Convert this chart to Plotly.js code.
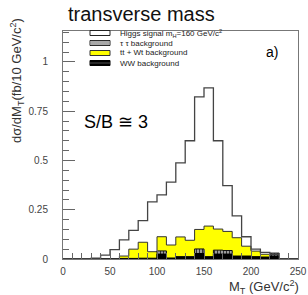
<!DOCTYPE html>
<html><head><meta charset="utf-8">
<script src="https://cdn.plot.ly/plotly-3.0.1.min.js"></script>
<style>html,body{margin:0;padding:0;background:#fff}#chart{width:308px;height:295px}</style>
</head><body><div id="chart"></div>
<script>
// bin lower edges (GeV/c^2), 10 GeV bins
const binLowEdges = [0,10,20,30,40,50,60,70,80,90,100,110,120,130,140,150,160,170,180,190,200,210,220,230,240];
const binWidth = 10;
const higgsSignal = [0,0,0,0.004,0.02,0.048,0.097,0.145,0.195,0.29,0.325,0.39,0.488,0.6,0.823,0.868,0.6,0.372,0.219,0.113,0.05,0.034,0.024,0,0];
const ttWtBackground = [0,0,0,0,0,0,0.015,0.05,0.085,0.037,0.113,0.071,0.112,0.095,0.15,0.167,0.152,0.14,0.108,0.065,0.04,0.024,0.012,0,0];
const tautauBackground = [0,0,0,0,0,0,0,0,0,0,0.041,0,0,0,0.051,0,0.045,0.043,0,0,0,0,0.03,0,0];
const wwBackground = [0,0,0,0,0,0,0.003,0.003,0.004,0.004,0.025,0.005,0.012,0.012,0.028,0.012,0.025,0.025,0.015,0.015,0.012,0.01,0.015,0,0];
const xTickVals = [0,50,100,150,200,250];
const yTickVals = [0,0.25,0.5,0.75,1];
const yTickText = ['0','0.25','0.5','0.75','1'];
const legendLabels = ['Higgs signal m<sub>H</sub>=160 GeV/c<sup>2</sup>','τ τ background','tt + Wt background','WW background'];

const edges = binLowEdges.concat([binLowEdges[binLowEdges.length-1] + binWidth]);
function stepY(v){ return v.concat([0]); }

const traces = [
  {x: edges, y: stepY(ttWtBackground), type:'scatter', mode:'lines', line:{shape:'hv', color:'#333', width:1},
   fill:'tozeroy', fillcolor:'#ffff00', hoverinfo:'skip'},
  {x: edges, y: stepY(tautauBackground), type:'scatter', mode:'lines', line:{shape:'hv', color:'#111', width:1},
   fill:'tozeroy', fillcolor:'#999999', fillpattern:{shape:'|', fgcolor:'#333', bgcolor:'#aaaaaa', size:3, solidity:0.4}, hoverinfo:'skip'},
  {x: edges, y: stepY(wwBackground), type:'scatter', mode:'lines', line:{shape:'hv', color:'#000', width:1},
   fill:'tozeroy', fillcolor:'#000000', hoverinfo:'skip'},
  {x: edges, y: stepY(higgsSignal), type:'scatter', mode:'lines', line:{shape:'hv', color:'#444', width:1.3}, hoverinfo:'skip'}
];

// pixel -> paper helpers for decorations
const L=63, R=298, T=31, B=259;
const px = p => (p-L)/(R-L);
const py = p => (B-p)/(B-T);

const rows = [33,43,53,63];
const shapes = [];
const annotations = [];
// legend swatches
shapes.push({type:'rect', xref:'paper', yref:'paper', x0:px(90), x1:px(110), y0:py(rows[0]+2.5), y1:py(rows[0]-2.5), line:{color:'#222', width:1}, fillcolor:'#fff'});
shapes.push({type:'rect', xref:'paper', yref:'paper', x0:px(90), x1:px(110), y0:py(rows[1]+2.5), y1:py(rows[1]-2.5), line:{color:'#222', width:1}, fillcolor:'#fff'});
for (let i=1;i<10;i++){
  shapes.push({type:'line', xref:'paper', yref:'paper', x0:px(90+2*i), x1:px(90+2*i), y0:py(rows[1]+2.5), y1:py(rows[1]-2.5), line:{color:'#555', width:1}});
}
shapes.push({type:'rect', xref:'paper', yref:'paper', x0:px(90), x1:px(110), y0:py(rows[2]+2.5), y1:py(rows[2]-2.5), line:{color:'#333', width:1}, fillcolor:'#ffff00'});
shapes.push({type:'rect', xref:'paper', yref:'paper', x0:px(90), x1:px(110), y0:py(rows[3]+2.5), y1:py(rows[3]-2.5), line:{color:'#000', width:1}, fillcolor:'#000'});
shapes.push({type:'line', xref:'paper', yref:'paper', x0:px(90), x1:px(110), y0:py(rows[3]), y1:py(rows[3]), line:{color:'#888', width:0.6}});

legendLabels.forEach((t,i)=>{
  annotations.push({xref:'paper', yref:'paper', x:px(118), y:py(rows[i]), xanchor:'left', yanchor:'middle', text:t, showarrow:false,
    font:{family:'Liberation Sans, Arial, sans-serif', size:8, color:'#222'}});
});
annotations.push({xref:'paper', yref:'paper', x:px(272), y:py(52), xanchor:'center', yanchor:'middle', text:'a)', showarrow:false,
  font:{family:'Liberation Sans, Arial, sans-serif', size:14, color:'#000'}});
annotations.push({xref:'paper', yref:'paper', x:px(82), y:py(122), xanchor:'left', yanchor:'middle', text:'S/B ≅ 3', showarrow:false,
  font:{family:'Liberation Sans, Arial, sans-serif', size:18, color:'#000'}});
annotations.push({xref:'paper', yref:'paper', x:px(17), y:py(81), xanchor:'center', yanchor:'middle', textangle:-90,
  text:'dσ/dM<sub>T</sub>(fb/10 GeV/c<sup>2</sup>)', showarrow:false,
  font:{family:'Liberation Sans, Arial, sans-serif', size:13, color:'#333'}});
annotations.push({xref:'paper', yref:'paper', x:px(301), y:py(287), xanchor:'right', yanchor:'middle',
  text:'M<sub>T</sub> (GeV/c<sup>2</sup>)', showarrow:false,
  font:{family:'Liberation Sans, Arial, sans-serif', size:13, color:'#333'}});

const layout = {
  width:308, height:295,
  margin:{l:L, r:308-R, t:T, b:295-B, pad:0},
  paper_bgcolor:'#fff', plot_bgcolor:'#fff',
  showlegend:false,
  font:{family:'Liberation Sans, Arial, sans-serif', size:10, color:'#444'},
  title:{text:'transverse mass', xref:'container', yref:'container', x:68/308, xanchor:'left', y:1-14/295, yanchor:'middle',
    font:{family:'Liberation Sans, Arial, sans-serif', size:20, color:'#111'}},
  xaxis:{range:[0,250], tickvals:xTickVals, ticktext:xTickVals.map(String), ticks:'inside', ticklen:9, tickcolor:'#666', tickwidth:1,
    minor:{dtick:10, ticks:'inside', ticklen:6, tickcolor:'#666', tickwidth:1, showgrid:false},
    showline:true, linecolor:'#777', linewidth:1, mirror:true, showgrid:false, zeroline:false, ticklabelstandoff:3,
    tickfont:{size:10, color:'#444'}, fixedrange:true},
  yaxis:{range:[0,1.157], tickvals:yTickVals, ticktext:yTickText, ticks:'inside', ticklen:12, tickcolor:'#666', tickwidth:1,
    minor:{dtick:0.05, ticks:'inside', ticklen:6, tickcolor:'#666', tickwidth:1, showgrid:false},
    showline:true, linecolor:'#777', linewidth:1, mirror:true, showgrid:false, zeroline:false, ticklabelstandoff:12,
    tickfont:{size:10, color:'#444'}, fixedrange:true},
  shapes:shapes, annotations:annotations
};
Plotly.newPlot('chart', traces, layout, {staticPlot:true, displayModeBar:false});
</script></body></html>
